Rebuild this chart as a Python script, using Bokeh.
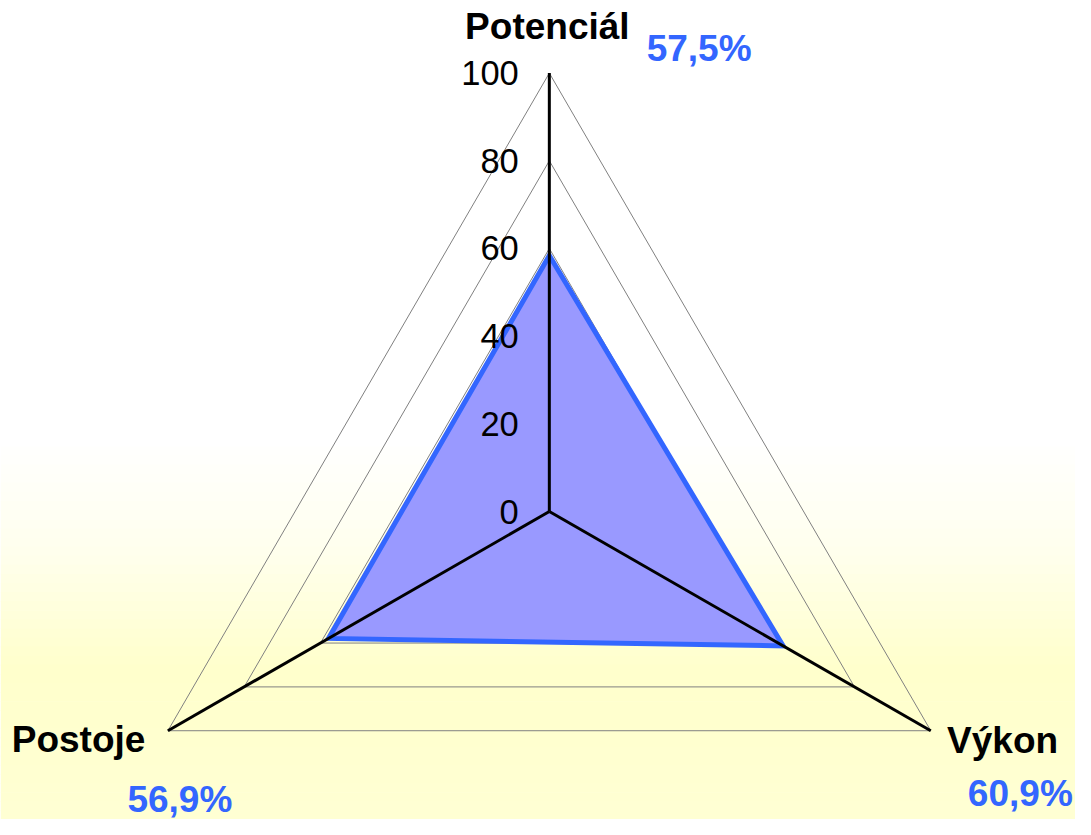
import numpy as np
from bokeh.plotting import figure
from bokeh.embed import file_html
from bokeh.resources import INLINE
from bokeh.core.properties import value

# ---- data ----
categories = ["Potenciál", "Výkon", "Postoje"]
scores = [58.4, 61.3, 57.9]              # plotted values
score_labels = ["57,5%", "60,9%", "56,9%"]
ticks = [0, 20, 40, 60, 80, 100]
grid_levels = [20, 40, 60, 80, 100]

# ---- geometry (layout designed on a 1091x835 canvas, drawn at 1075x819) ----
SCALE = 4.47                      # layout pixels per data unit
LW, LH = 1091, 835                # layout canvas
CX, CY = 557, 521                 # centre in layout pixels
W, H = 1075, 819                  # actual figure size
K = W / LW                        # shrink factor for fonts
angles = np.deg2rad([90, -30, 210])

def px(n):
    return n / SCALE

def fs(n):
    return "%.1fpx" % (n * K)

p = figure(width=W, height=H, output_backend="svg", toolbar_location=None,
           x_range=(-CX / SCALE, (LW - CX) / SCALE),
           y_range=(-(LH - CY) / SCALE, CY / SCALE),
           min_border=0, outline_line_color=None)
p.axis.visible = False
p.grid.visible = False
p.background_fill_color = "white"
p.border_fill_color = "white"

# background gradient (white -> light yellow towards the bottom)
stops_py = [0, 450, 560, 680, 835]
stops_col = [(255, 255, 255), (255, 255, 255), (255, 255, 238), (255, 255, 204), (255, 255, 212)]
n = 90
edges = np.linspace(0, LH, n + 1)
cols = []
for i in range(n):
    yy = (edges[i] + edges[i + 1]) / 2
    r = np.interp(yy, stops_py, [c[0] for c in stops_col])
    g = np.interp(yy, stops_py, [c[1] for c in stops_col])
    b = np.interp(yy, stops_py, [c[2] for c in stops_col])
    cols.append("#%02x%02x%02x" % (int(r), int(g), int(b)))
top = [(CY - edges[i]) / SCALE for i in range(n)]
bot = [(CY - edges[i + 1]) / SCALE - px(0.6) for i in range(n)]
p.quad(left=-CX / SCALE, right=(LW - CX) / SCALE, top=top, bottom=bot,
       fill_color=cols, line_color=None)

# grid triangles
gx, gy = [], []
for lv in grid_levels:
    gx.append(list(lv * np.cos(angles)) + [lv * np.cos(angles[0])])
    gy.append(list(lv * np.sin(angles)) + [lv * np.sin(angles[0])])
p.multi_line(gx, gy, line_color="#808080", line_width=1)

# data polygon
sx = [s * np.cos(a) for s, a in zip(scores, angles)]
sy = [s * np.sin(a) for s, a in zip(scores, angles)]
p.patch(sx, sy, fill_color="#9999FF", line_color="#3366FF", line_width=5,
        line_join="miter")

# axes
ax = [[0, 100 * np.cos(a)] for a in angles]
ay = [[0, 100 * np.sin(a)] for a in angles]
p.multi_line(ax, ay, line_color="black", line_width=3)

# tick labels
p.text(x=[px(-31)] * len(ticks), y=ticks, text=[str(t) for t in ticks],
       text_font=value("Liberation Sans"), text_font_size=fs(35),
       text_align="right", text_baseline="middle", text_color="black")

# category labels
cat_x = [px(-2), px(460), px(-410)]
cat_y = [px(495), px(-233), px(-232)]
cat_align = ["center", "center", "right"]
p.text(x=cat_x, y=cat_y, text=categories, text_align=cat_align,
       text_font=value("Liberation Sans"), text_font_style="bold",
       text_font_size=fs(37.5), text_baseline="middle", text_color="black")

# value labels
val_x = [px(152), px(478), px(-375)]
val_y = [px(472), px(-288), px(-294)]
p.text(x=val_x, y=val_y, text=score_labels, text_align="center",
       text_font=value("Liberation Sans"), text_font_style="bold",
       text_font_size=fs(37.5), text_baseline="middle", text_color="#3366FF")

open("out.html", "w").write(file_html(p, INLINE))
